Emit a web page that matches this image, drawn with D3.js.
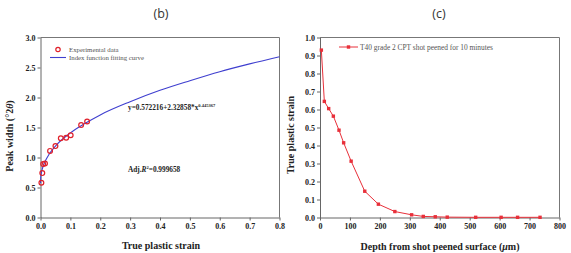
<!DOCTYPE html>
<html>
<head>
<meta charset="utf-8">
<script src="https://cdn.jsdelivr.net/npm/d3@7"></script>
<style>
  body { margin: 0; background: #fff; }
  svg { display: block; }
  .tick text { font-family: "Liberation Serif", serif; font-weight: bold; font-size: 8px; fill: #222; }
  .tick line, .domain { stroke: #666; }
</style>
</head>
<body>
<div id="chart"></div>
<script>
// panel (b): experimental points
const strainX = [0.003, 0.006, 0.009, 0.015, 0.032, 0.05, 0.068, 0.086, 0.101, 0.136, 0.156];
const widthY  = [0.58, 0.74, 0.89, 0.90, 1.11, 1.19, 1.32, 1.33, 1.37, 1.54, 1.60];
// panel (b): fitting curve
const fitX = [0, 0.001, 0.005, 0.01, 0.02, 0.05, 0.1, 0.15, 0.2, 0.3, 0.4, 0.5, 0.6, 0.7, 0.8];
const fitY = [0.57, 0.68, 0.79, 0.87, 0.98, 1.19, 1.41, 1.57, 1.71, 1.93, 2.12, 2.28, 2.43, 2.56, 2.68];
const ticksB_X = [0, 0.1, 0.2, 0.3, 0.4, 0.5, 0.6, 0.7, 0.8];
const ticksB_Y = [0, 0.5, 1.0, 1.5, 2.0, 2.5, 3.0];

// panel (c): strain vs depth
const depth  = [4.5, 14.5, 29, 44.6, 63.5, 79, 104, 149.5, 195, 250, 306, 345, 385, 425, 520, 605, 660, 735];
const strain = [0.93, 0.645, 0.605, 0.563, 0.485, 0.415, 0.313, 0.146, 0.074, 0.033, 0.015, 0.006, 0.004, 0.002, 0.001, 0.001, 0.001, 0.001];
const ticksC_X = [0, 100, 200, 300, 400, 500, 600, 700, 800];
const ticksC_Y = [0, 0.1, 0.2, 0.3, 0.4, 0.5, 0.6, 0.7, 0.8, 0.9, 1.0];

const W = 571, H = 253;
const svg = d3.select("#chart").append("svg").attr("width", W).attr("height", H);

const serif = "'Liberation Serif', 'Times New Roman', serif";

// draws frame + axes for one panel, returns scales
function panel(left, right, top, bottom, xDom, yDom, xTicks, yTicks, xFmt, yFmt) {
  const x = d3.scaleLinear().domain(xDom).range([left, right]);
  const y = d3.scaleLinear().domain(yDom).range([bottom, top]);

  // top / right frame
  svg.append("path")
    .attr("d", `M${left},${top}H${right}V${bottom}`)
    .attr("fill", "none").attr("stroke", "#777").attr("stroke-width", 1);

  svg.append("g")
    .attr("transform", `translate(0,${bottom})`)
    .call(d3.axisBottom(x).tickValues(xTicks).tickFormat(xFmt).tickSize(3).tickPadding(3).tickSizeOuter(0));
  svg.append("g")
    .attr("transform", `translate(${left},0)`)
    .call(d3.axisLeft(y).tickValues(yTicks).tickFormat(yFmt).tickSize(3).tickPadding(2).tickSizeOuter(0));
  return { x, y };
}

// ---------- panel (b)
const b = panel(40.5, 279.5, 37.5, 217.5, [0, 0.8], [0, 3], ticksB_X, ticksB_Y, d3.format(".1f"), d3.format(".1f"));

svg.append("path")
  .datum(d3.zip(fitX, fitY))
  .attr("fill", "none").attr("stroke", "#3f3fcf").attr("stroke-width", 1.1)
  .attr("d", d3.line().x(d => b.x(d[0])).y(d => b.y(d[1])).curve(d3.curveMonotoneX));

svg.append("g").selectAll("circle")
  .data(d3.zip(strainX, widthY))
  .join("circle")
  .attr("cx", d => b.x(d[0])).attr("cy", d => b.y(d[1])).attr("r", 2.4)
  .attr("fill", "none").attr("stroke", "#e0202a").attr("stroke-width", 1.2);

// legend (b)
svg.append("circle").attr("cx", 58).attr("cy", 49.5).attr("r", 2.2)
  .attr("fill", "none").attr("stroke", "#e0202a").attr("stroke-width", 1.2);
svg.append("line").attr("x1", 50).attr("x2", 66).attr("y1", 57.5).attr("y2", 57.5)
  .attr("stroke", "#3f3fcf").attr("stroke-width", 1.1);
svg.append("text").attr("x", 69).attr("y", 52).text("Experimental data")
  .attr("font-family", serif).attr("font-size", 6.8).attr("fill", "#555");
svg.append("text").attr("x", 69).attr("y", 60).text("Index function fitting curve")
  .attr("font-family", serif).attr("font-size", 6.8).attr("fill", "#555");

// equation + R2
const eq = svg.append("text").attr("x", 128).attr("y", 110)
  .attr("font-family", serif).attr("font-size", 7.3).attr("font-weight", "bold").attr("fill", "#222");
eq.append("tspan").text("y=0.572216+2.32858*x");
eq.append("tspan").attr("font-size", 4.5).attr("dy", -3).text("0.445367");

const r2 = svg.append("text").attr("x", 128).attr("y", 172)
  .attr("font-family", serif).attr("font-size", 7.3).attr("font-weight", "bold").attr("fill", "#222");
r2.append("tspan").text("Adj.");
r2.append("tspan").attr("font-style", "italic").text("R");
r2.append("tspan").attr("font-size", 4.5).attr("dy", -3).text("2");
r2.append("tspan").attr("dy", 3).text("=0.999658");

// titles / labels (b)
svg.append("text").attr("x", 161).attr("y", 18).attr("text-anchor", "middle")
  .attr("font-family", "'Open Sans', sans-serif").attr("font-size", 12.5).attr("fill", "#333").text("(b)");
svg.append("text").attr("x", 161).attr("y", 249).attr("text-anchor", "middle")
  .attr("font-family", serif).attr("font-weight", "bold").attr("font-size", 10).attr("fill", "#222")
  .text("True plastic strain");
const yl = svg.append("text").attr("transform", "translate(13,136) rotate(-90)").attr("text-anchor", "middle")
  .attr("font-family", serif).attr("font-weight", "bold").attr("font-size", 10).attr("fill", "#222");
yl.append("tspan").text("Peak width (°2");
yl.append("tspan").attr("font-style", "italic").text("θ");
yl.append("tspan").text(")");

// ---------- panel (c)
const c = panel(320, 559.5, 37.5, 217.5, [0, 800], [0, 1], ticksC_X, ticksC_Y, d3.format("d"), d3.format(".1f"));

const red = "#e8303a";
svg.append("path")
  .datum(d3.zip(depth, strain))
  .attr("fill", "none").attr("stroke", red).attr("stroke-width", 1)
  .attr("d", d3.line().x(d => c.x(d[0])).y(d => c.y(d[1])));

svg.append("g").selectAll("rect")
  .data(d3.zip(depth, strain))
  .join("rect")
  .attr("x", d => c.x(d[0]) - 1.7).attr("y", d => c.y(d[1]) - 1.7)
  .attr("width", 3.4).attr("height", 3.4).attr("fill", red);

// legend (c)
svg.append("line").attr("x1", 339).attr("x2", 358).attr("y1", 47).attr("y2", 47)
  .attr("stroke", red).attr("stroke-width", 1);
svg.append("rect").attr("x", 346.8).attr("y", 45.3).attr("width", 3.4).attr("height", 3.4).attr("fill", red);
svg.append("text").attr("x", 360).attr("y", 49.5).text("T40 grade 2 CPT shot peened for 10 minutes")
  .attr("font-family", serif).attr("font-size", 7.4).attr("fill", "#555");

svg.append("text").attr("x", 439).attr("y", 18).attr("text-anchor", "middle")
  .attr("font-family", "'Open Sans', sans-serif").attr("font-size", 12.5).attr("fill", "#333").text("(c)");
const xl = svg.append("text").attr("x", 440).attr("y", 250).attr("text-anchor", "middle")
  .attr("font-family", serif).attr("font-weight", "bold").attr("font-size", 10).attr("fill", "#222");
xl.append("tspan").text("Depth from shot peened surface (");
xl.append("tspan").attr("font-style", "italic").text("μ");
xl.append("tspan").text("m)");
svg.append("text").attr("transform", "translate(293.5,135) rotate(-90)").attr("text-anchor", "middle")
  .attr("font-family", serif).attr("font-weight", "bold").attr("font-size", 10).attr("fill", "#222")
  .text("True plastic strain");
</script>
</body>
</html>
